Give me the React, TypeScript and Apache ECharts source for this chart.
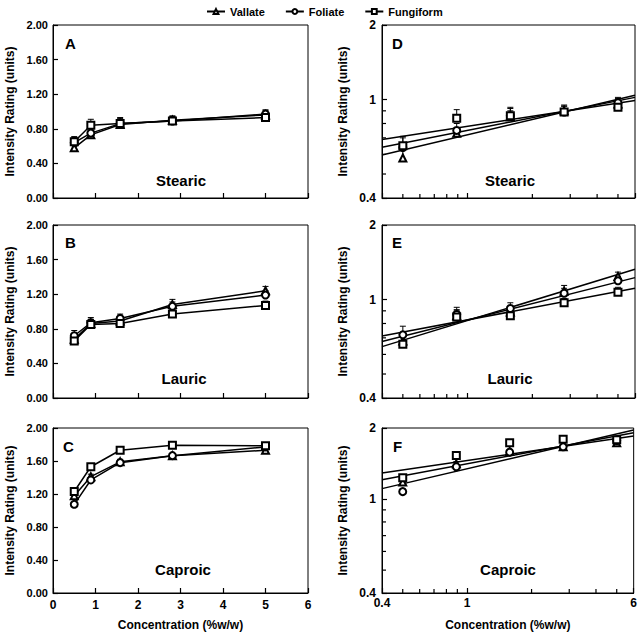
import React, { useEffect, useRef } from 'react';
import * as echarts from 'echarts';

// ---- data ----
const concentrations = [0.5, 0.89, 1.58, 2.81, 5.0];
const speciesNames = ['Vallate', 'Foliate', 'Fungiform'];
const speciesSymbols = ['emptyTriangle', 'emptyCircle', 'emptyRect'];

const stearicVallate = [0.58, 0.73, 0.85, 0.9, 0.96];
const stearicFoliate = [0.64, 0.75, 0.86, 0.89, 0.97];
const stearicFungiform = [0.65, 0.84, 0.86, 0.89, 0.93];
const stearicVallateErr = [0.05, 0.04, 0.05, 0.05, 0.05];
const stearicFoliateErr = [0.06, 0.05, 0.06, 0.05, 0.05];
const stearicFungiformErr = [0.06, 0.07, 0.07, 0.05, 0.05];

const lauricVallate = [0.68, 0.86, 0.89, 1.08, 1.24];
const lauricFoliate = [0.72, 0.87, 0.92, 1.06, 1.19];
const lauricFungiform = [0.66, 0.85, 0.86, 0.97, 1.07];
const lauricVallateErr = [0.05, 0.05, 0.05, 0.06, 0.05];
const lauricFoliateErr = [0.06, 0.06, 0.05, 0.05, 0.05];
const lauricFungiformErr = [0.05, 0.05, 0.04, 0.04, 0.05];

const caproicVallate = [1.18, 1.41, 1.59, 1.665, 1.73];
const caproicFoliate = [1.075, 1.37, 1.58, 1.665, 1.77];
const caproicFungiform = [1.23, 1.53, 1.73, 1.79, 1.785];
const caproicVallateErr = [0.03, 0.03, 0.03, 0.02, 0.03];
const caproicFoliateErr = [0.03, 0.03, 0.02, 0.02, 0.02];
const caproicFungiformErr = [0.03, 0.02, 0.02, 0.02, 0.02];

// power-law fit lines (read at x = 0.4 and x = 6)
const fitX = [0.4, 6];
const stearicFitVallate = [0.597, 1.04];
const stearicFitFoliate = [0.641, 1.02];
const stearicFitFungiform = [0.69, 0.99];
const lauricFitVallate = [0.645, 1.324];
const lauricFitFoliate = [0.676, 1.226];
const lauricFitFungiform = [0.712, 1.11];
const caproicFitVallate = [1.208, 1.91];
const caproicFitFoliate = [1.107, 1.962];
const caproicFitFungiform = [1.289, 1.85];

const linearXTicks = [0, 6, 1];
const linearYTicks = [0, 2, 0.4];
const logXRange = [0.4, 6];
const logYRange = [0.4, 2];
const logMinorX = [0.5, 0.6, 0.7, 0.8, 0.9, 2, 3, 4, 5];
const logMinorY = [0.5, 0.6, 0.7, 0.8, 0.9];

const acidNames = ['Stearic', 'Lauric', 'Caproic'];
const linearLetters = ['A', 'B', 'C'];
const logLetters = ['D', 'E', 'F'];

const acidValues = [
  [stearicVallate, stearicFoliate, stearicFungiform],
  [lauricVallate, lauricFoliate, lauricFungiform],
  [caproicVallate, caproicFoliate, caproicFungiform],
];
const acidErrs = [
  [stearicVallateErr, stearicFoliateErr, stearicFungiformErr],
  [lauricVallateErr, lauricFoliateErr, lauricFungiformErr],
  [caproicVallateErr, caproicFoliateErr, caproicFungiformErr],
];
const acidFits = [
  [stearicFitVallate, stearicFitFoliate, stearicFitFungiform],
  [lauricFitVallate, lauricFitFoliate, lauricFitFungiform],
  [caproicFitVallate, caproicFitFoliate, caproicFitFungiform],
];

const FONT = 'Liberation Sans, Arial, sans-serif';

export default function App() {
  const ref = useRef<HTMLDivElement>(null);

  useEffect(() => {
    if (!ref.current) return;
    const chart = echarts.init(ref.current, null, { renderer: 'svg' });

    const leftGrids = [
      { left: 53, top: 25, width: 255, height: 173 },
      { left: 53, top: 225, width: 255, height: 173 },
      { left: 53, top: 428, width: 255, height: 165 },
    ];
    const rightGrids = [
      { left: 382, top: 25, width: 253, height: 173 },
      { left: 382, top: 225, width: 253, height: 173 },
      { left: 382, top: 428, width: 253, height: 166 },
    ];
    const grids = [...leftGrids, ...rightGrids].map((g) => ({
      ...g,
      show: true,
      borderColor: '#000',
      borderWidth: 1,
      backgroundColor: 'transparent',
      containLabel: false,
    }));

    const axisLine = { show: true, onZero: false, lineStyle: { color: '#000', width: 1 } };
    const labelStyle = { color: '#000', fontFamily: FONT, fontWeight: 'bold' as const, fontSize: 11 };
    const nameStyle = { color: '#000', fontFamily: FONT, fontWeight: 'bold' as const, fontSize: 12 };
    const tick = { show: true, inside: true, length: 5, lineStyle: { color: '#000', width: 1.2 } };

    const xAxes: any[] = [];
    const yAxes: any[] = [];
    for (let i = 0; i < 3; i++) {
      const isBottom = i === 2;
      xAxes.push({
        type: 'value',
        gridIndex: i,
        min: linearXTicks[0],
        max: linearXTicks[1],
        interval: linearXTicks[2],
        axisLine,
        axisTick: tick,
        axisLabel: { show: isBottom, ...labelStyle, fontSize: 12, margin: 6 },
        splitLine: { show: false },
        name: isBottom ? 'Concentration (%w/w)' : '',
        nameLocation: 'middle',
        nameGap: 26,
        nameTextStyle: nameStyle,
      });
      yAxes.push({
        type: 'value',
        gridIndex: i,
        min: linearYTicks[0],
        max: linearYTicks[1],
        interval: linearYTicks[2],
        axisLine,
        axisTick: tick,
        axisLabel: { ...labelStyle, margin: 5, formatter: (v: number) => v.toFixed(2) },
        splitLine: { show: false },
        name: 'Intensity Rating (units)',
        nameLocation: 'middle',
        nameGap: 37,
        nameTextStyle: nameStyle,
      });
    }
    const fmtLog = (v: number) => String(Number(v.toPrecision(3)));
    for (let i = 0; i < 3; i++) {
      const isBottom = i === 2;
      xAxes.push({
        type: 'log',
        logBase: 10,
        gridIndex: 3 + i,
        min: logXRange[0],
        max: logXRange[1],
        axisLine,
        axisTick: tick,
        axisLabel: {
          show: isBottom,
          ...labelStyle,
          fontSize: 12,
          margin: 4,
          showMinLabel: true,
          showMaxLabel: true,
          formatter: fmtLog,
        },
        splitLine: { show: false },
        name: isBottom ? 'Concentration (%w/w)' : '',
        nameLocation: 'middle',
        nameGap: 26,
        nameTextStyle: nameStyle,
      });
      yAxes.push({
        type: 'log',
        logBase: 10,
        gridIndex: 3 + i,
        min: logYRange[0],
        max: logYRange[1],
        axisLine,
        axisTick: tick,
        axisLabel: {
          ...labelStyle,
          fontSize: 12,
          margin: 6,
          showMinLabel: true,
          showMaxLabel: true,
          formatter: fmtLog,
        },
        splitLine: { show: false },
        name: 'Intensity Rating (units)',
        nameLocation: 'middle',
        nameGap: 33,
        nameTextStyle: nameStyle,
      });
    }

    const series: any[] = [];
    const errRender = (params: any, api: any) => {
      const x = api.value(0);
      const y = api.value(1);
      const e = api.value(2);
      const p0 = api.coord([x, y]);
      const p1 = api.coord([x, y + e]);
      return {
        type: 'group',
        children: [
          { type: 'line', shape: { x1: p0[0], y1: p0[1], x2: p1[0], y2: p1[1] }, style: { stroke: '#000', lineWidth: 1 } },
          { type: 'line', shape: { x1: p1[0] - 3, y1: p1[1], x2: p1[0] + 3, y2: p1[1] }, style: { stroke: '#000', lineWidth: 1 } },
        ],
      };
    };

    // error bars first (beneath)
    for (let a = 0; a < 3; a++) {
      for (let s = 0; s < 3; s++) {
        const errData = concentrations.map((x, k) => [x, acidValues[a][s][k], acidErrs[a][s][k]]);
        for (const gi of [a, 3 + a]) {
          series.push({
            type: 'custom',
            name: 'err',
            xAxisIndex: gi,
            yAxisIndex: gi,
            data: errData,
            encode: { x: 0, y: 1 },
            renderItem: errRender,
            silent: true,
            z: 1,
          });
        }
      }
    }

    // linear panels: connected lines
    for (let a = 0; a < 3; a++) {
      for (let s = 0; s < 3; s++) {
        series.push({
          type: 'line',
          name: speciesNames[s],
          xAxisIndex: a,
          yAxisIndex: a,
          data: concentrations.map((x, k) => [x, acidValues[a][s][k]]),
          symbol: speciesSymbols[s],
          symbolSize: 7,
          showAllSymbol: true,
          lineStyle: { color: '#000', width: 1.5 },
          itemStyle: { color: '#000', borderWidth: 1.3, opacity: 1 },
          z: 3,
        });
      }
    }
    // log panels: fits + points
    for (let a = 0; a < 3; a++) {
      for (let s = 0; s < 3; s++) {
        series.push({
          type: 'line',
          name: 'fit ' + speciesNames[s],
          xAxisIndex: 3 + a,
          yAxisIndex: 3 + a,
          data: fitX.map((x, k) => [x, acidFits[a][s][k]]),
          showSymbol: false,
          symbol: 'none',
          lineStyle: { color: '#000', width: 1.5 },
          z: 2,
        });
        series.push({
          type: 'scatter',
          name: speciesNames[s],
          xAxisIndex: 3 + a,
          yAxisIndex: 3 + a,
          data: concentrations.map((x, k) => [x, acidValues[a][s][k]]),
          symbol: speciesSymbols[s],
          symbolSize: 7,
          itemStyle: { color: '#000', borderWidth: 1.3, opacity: 1 },
          z: 3,
        });
      }
      // minor ticks on log axes
      series.push({
        type: 'custom',
        name: 'minorX',
        xAxisIndex: 3 + a,
        yAxisIndex: 3 + a,
        data: logMinorX.map((v) => [v, logYRange[0]]),
        encode: { x: 0, y: 1 },
        silent: true,
        clip: false,
        renderItem: (params: any, api: any) => {
          const p = api.coord([api.value(0), api.value(1)]);
          return {
            type: 'group',
            children: [
              { type: 'line', shape: { x1: p[0], y1: p[1], x2: p[0], y2: p[1] - 4 }, style: { stroke: '#000', lineWidth: 1.2 } },
            ],
          };
        },
        z: 4,
      });
      series.push({
        type: 'custom',
        name: 'minorY',
        xAxisIndex: 3 + a,
        yAxisIndex: 3 + a,
        data: logMinorY.map((v) => [logXRange[0], v]),
        encode: { x: 0, y: 1 },
        silent: true,
        clip: false,
        renderItem: (params: any, api: any) => {
          const p = api.coord([api.value(0), api.value(1)]);
          return {
            type: 'group',
            children: [
              { type: 'line', shape: { x1: p[0], y1: p[1], x2: p[0] + 4, y2: p[1] }, style: { stroke: '#000', lineWidth: 1.2 } },
            ],
          };
        },
        z: 4,
      });
    }

    const graphics: any[] = [];
    const letterPos = [
      [65, 43], [65, 242], [63, 446],
    ];
    const letterPosR = [
      [392, 43], [392, 242], [393, 446],
    ];
    const namePosL = [
      [181, 180], [184, 378], [183, 569],
    ];
    const namePosR = [
      [510, 180], [510, 378], [508, 569],
    ];
    for (let i = 0; i < 3; i++) {
      graphics.push({
        type: 'text', x: letterPos[i][0], y: letterPos[i][1],
        style: { text: linearLetters[i], font: `bold 15px ${FONT}`, fill: '#000', textVerticalAlign: 'middle' },
      });
      graphics.push({
        type: 'text', x: letterPosR[i][0], y: letterPosR[i][1],
        style: { text: logLetters[i], font: `bold 15px ${FONT}`, fill: '#000', textVerticalAlign: 'middle' },
      });
      graphics.push({
        type: 'text', x: namePosL[i][0], y: namePosL[i][1],
        style: { text: acidNames[i], font: `bold 15px ${FONT}`, fill: '#000', textAlign: 'center', textVerticalAlign: 'middle' },
      });
      graphics.push({
        type: 'text', x: namePosR[i][0], y: namePosR[i][1],
        style: { text: acidNames[i], font: `bold 15px ${FONT}`, fill: '#000', textAlign: 'center', textVerticalAlign: 'middle' },
      });
    }

    chart.setOption({
      animation: false,
      backgroundColor: '#fff',
      legend: {
        data: speciesNames,
        top: 1,
        left: 201,
        itemWidth: 18,
        itemHeight: 6,
        itemGap: 20,
        textStyle: { color: '#000', fontFamily: FONT, fontWeight: 'bold', fontSize: 11 },
      },
      grid: grids,
      xAxis: xAxes,
      yAxis: yAxes,
      series,
      graphic: graphics,
    });

    return () => chart.dispose();
  }, []);

  return (
    <div
      ref={ref}
      style={{ position: 'fixed', left: 0, top: 0, width: 640, height: 632, background: '#fff' }}
    />
  );
}
